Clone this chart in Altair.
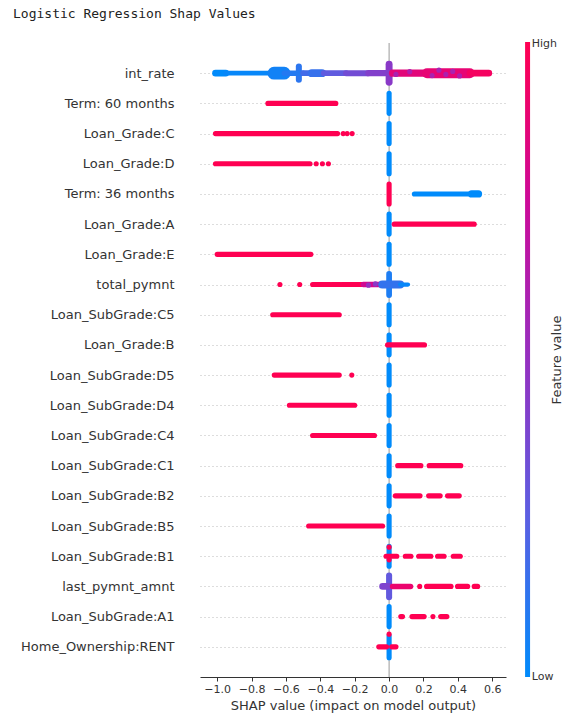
import altair as alt
import pandas as pd

features = ["int_rate", "Term: 60 months", "Loan_Grade:C", "Loan_Grade:D",
            "Term: 36 months", "Loan_Grade:A", "Loan_Grade:E", "total_pymnt",
            "Loan_SubGrade:C5", "Loan_Grade:B", "Loan_SubGrade:D5", "Loan_SubGrade:D4",
            "Loan_SubGrade:C4", "Loan_SubGrade:C1", "Loan_SubGrade:B2", "Loan_SubGrade:B5",
            "Loan_SubGrade:B1", "last_pymnt_amnt", "Loan_SubGrade:A1", "Home_Ownership:RENT"]

# vertical piles of points at one SHAP value: (row, shap, half_spread_rows, width_rows, feature_value)
piles = [
    (0, -0.525, 0.22, 0.20, 0.12), (0, 0.0, 0.30, 0.23, 0.45),
    (1, 0.0, 0.33, 0.17, 0.0), (2, 0.0, 0.33, 0.17, 0.0), (3, 0.0, 0.33, 0.17, 0.0),
    (4, 0.0, 0.33, 0.17, 1.0), (5, 0.0, 0.33, 0.17, 0.0), (6, 0.0, 0.33, 0.17, 0.0),
    (7, 0.0, 0.35, 0.19, 0.08), (8, 0.0, 0.33, 0.17, 0.0), (9, 0.0, 0.33, 0.17, 0.0),
    (10, 0.0, 0.33, 0.17, 0.0), (11, 0.0, 0.33, 0.17, 0.0), (12, 0.0, 0.33, 0.17, 0.0),
    (13, 0.0, 0.33, 0.17, 0.0), (14, 0.0, 0.33, 0.17, 0.0), (15, 0.0, 0.33, 0.17, 0.0),
    (16, 0.0, 0.33, 0.17, 0.0), (17, 0.0, 0.36, 0.20, 0.28), (18, 0.0, 0.33, 0.17, 0.0),
    (19, 0.0, 0.36, 0.17, 0.0),
]

# horizontal runs of overlapping points: (row, shap_from, shap_to, spread_rows, feature_value)
bands = [
    (0, -1.01, -0.95, 0.22, 0.0), (0, -0.95, -0.66, 0.16, 0.02),
    (0, -0.67, -0.61, 0.42, 0.05), (0, -0.61, -0.50, 0.18, 0.10),
    (0, -0.50, -0.38, 0.19, 0.18), (0, -0.45, -0.39, 0.26, 0.15),
    (0, -0.38, -0.25, 0.19, 0.27), (0, -0.25, -0.12, 0.20, 0.35),
    (0, -0.12, -0.01, 0.21, 0.42), (0, 0.02, 0.22, 0.24, 0.86),
    (0, 0.22, 0.47, 0.33, 0.88), (0, 0.47, 0.58, 0.22, 0.95),
    (1, -0.705, -0.31, 0.17, 1.0),
    (2, -1.01, -0.30, 0.17, 1.0),
    (3, -1.01, -0.46, 0.17, 1.0),
    (4, 0.147, 0.48, 0.17, 0.0), (4, 0.48, 0.52, 0.24, 0.0),
    (5, 0.03, 0.495, 0.17, 1.0),
    (6, -1.00, -0.455, 0.17, 1.0),
    (7, -0.445, -0.343, 0.17, 1.0), (7, -0.333, -0.285, 0.17, 1.0),
    (7, -0.275, -0.15, 0.17, 1.0), (7, -0.15, -0.045, 0.18, 0.78),
    (7, -0.04, 0.064, 0.27, 0.14), (7, 0.064, 0.11, 0.14, 0.02),
    (8, -0.677, -0.29, 0.17, 1.0),
    (9, -0.008, 0.205, 0.18, 1.0),
    (10, -0.668, -0.29, 0.17, 1.0),
    (11, -0.58, -0.20, 0.17, 1.0),
    (12, -0.445, -0.085, 0.17, 1.0),
    (13, 0.05, 0.185, 0.17, 1.0), (13, 0.233, 0.417, 0.17, 1.0),
    (14, 0.036, 0.18, 0.17, 1.0), (14, 0.23, 0.297, 0.17, 1.0), (14, 0.34, 0.408, 0.17, 1.0),
    (15, -0.468, -0.038, 0.17, 1.0),
    (16, -0.018, 0.045, 0.17, 1.0), (16, 0.094, 0.127, 0.17, 1.0),
    (16, 0.172, 0.243, 0.17, 1.0), (16, 0.282, 0.32, 0.17, 1.0), (16, 0.373, 0.414, 0.17, 1.0),
    (17, -0.038, 0.0, 0.22, 0.4), (17, 0.02, 0.125, 0.18, 0.9),
    (17, 0.218, 0.36, 0.17, 1.0), (17, 0.398, 0.457, 0.17, 1.0), (17, 0.495, 0.515, 0.17, 1.0),
    (18, 0.068, 0.078, 0.17, 1.0), (18, 0.133, 0.204, 0.17, 1.0), (18, 0.30, 0.336, 0.17, 1.0),
    (19, -0.06, -0.015, 0.17, 1.0), (19, 0.015, 0.04, 0.17, 1.0),
]

# isolated points: (row, shap, row_offset, feature_value)
dots = [
    (0, 0.04, 0.04, 0.6), (0, 0.12, -0.05, 0.62), (0, 0.25, 0.08, 0.6),
    (0, 0.29, -0.10, 0.58), (0, 0.33, 0.04, 0.62), (0, 0.37, -0.06, 0.6),
    (0, 0.41, 0.09, 0.62),
    (2, -0.267, 0.0, 1.0), (2, -0.244, 0.0, 1.0), (2, -0.215, 0.0, 1.0),
    (3, -0.424, 0.0, 1.0), (3, -0.388, 0.0, 1.0), (3, -0.353, 0.0, 1.0),
    (7, -0.635, 0.0, 1.0), (7, -0.52, 0.0, 1.0),
    (7, -0.12, 0.02, 0.5), (7, -0.08, -0.02, 0.45),
    (10, -0.217, 0.0, 1.0),
    (16, 0.0, -0.30, 1.0), (16, 0.0, 0.12, 1.0),
    (17, 0.178, 0.0, 1.0),
    (18, 0.255, 0.0, 1.0),
    (19, 0.0, -0.42, 1.0),
]

dot_width = 0.17  # one point's diameter, in rows

palette = ["#008bfb", "#5b5fe2", "#9530c0", "#cc0a98", "#ff0052"]
cbar_labels = ["High", "Low"]
cbar_label_rows = [-0.97, 20.0]

seg_rows = []
for r, x, h, w, v in piles:
    seg_rows.append({"x": x, "x2": x, "y": r - h, "y2": r + h, "w": w, "v": v})
for r, a, b, w, v in bands:
    seg_rows.append({"x": a, "x2": b, "y": r, "y2": r, "w": w, "v": v})
for r, x, dy, v in dots:
    seg_rows.append({"x": x, "x2": x, "y": r + dy, "y2": r + dy, "w": dot_width, "v": v})
seg_df = pd.DataFrame(seg_rows)

label_expr = "[" + ",".join("'" + f + "'" for f in features) + "][datum.value]"

x_scale = alt.Scale(domain=[-1.1, 0.68], nice=False, zero=False)
y_scale = alt.Scale(domain=[-1, 20], reverse=True, nice=False, zero=False)
color_scale = alt.Scale(domain=[0, 1], range=palette, interpolate="rgb")

x_axis = alt.Axis(values=[-1.0, -0.8, -0.6, -0.4, -0.2, 0.0, 0.2, 0.4, 0.6], format=".1f",
                  title="SHAP value (impact on model output)", grid=False, labelOverlap=False,
                  domainColor="#333", tickColor="#333", tickSize=4, labelPadding=2,
                  labelFontSize=11, labelColor="#333", labelFont="DejaVu Sans",
                  titleFontSize=13, titleFontWeight="normal", titleColor="#333",
                  titleFont="DejaVu Sans", titlePadding=5)
y_axis = alt.Axis(values=list(range(20)), labelExpr=label_expr, title=None, labelOverlap=False,
                  domain=False, ticks=False, grid=True, gridDash=[1, 3], gridColor="#bbb",
                  labelFontSize=13, labelColor="#333", labelFont="DejaVu Sans", labelPadding=26)

zero_line = alt.Chart(pd.DataFrame({"x": [0.0]})).mark_rule(color="#999", strokeWidth=1).encode(
    x=alt.X("x:Q", scale=x_scale, axis=x_axis)
)

segments = alt.Chart(seg_df).mark_rule(strokeCap="round").encode(
    x=alt.X("x:Q", scale=x_scale, axis=x_axis),
    x2="x2:Q",
    y=alt.Y("y:Q", scale=y_scale, axis=y_axis),
    y2="y2:Q",
    size=alt.Size("w:Q", scale=alt.Scale(domain=[0, 1], range=[0, 30.19], zero=True), legend=None),
    color=alt.Color("v:Q", scale=color_scale, legend=None),
)

# colour bar (drawn beside the plot, in the same coordinate system)
gradient = alt.LinearGradient(
    gradient="linear", x1=0, x2=0, y1=1, y2=0,
    stops=[alt.GradientStop(color=c, offset=i / (len(palette) - 1)) for i, c in enumerate(palette)],
)
cbar = alt.Chart(pd.DataFrame({"a": [0]})).mark_rect(color=gradient).encode(
    x=alt.datum(0.791, scale=x_scale, axis=x_axis), x2=alt.datum(0.82),
    y=alt.datum(-1.03, scale=y_scale, axis=y_axis), y2=alt.datum(20.0),
)
cbar_text = alt.Chart(pd.DataFrame({"t": cbar_labels, "y": cbar_label_rows})).mark_text(
    align="left", baseline="middle", fontSize=11, color="#333", font="DejaVu Sans"
).encode(
    x=alt.datum(0.83, scale=x_scale, axis=x_axis),
    y=alt.Y("y:Q", scale=y_scale, axis=y_axis),
    text="t:N",
)
cbar_title = alt.Chart(pd.DataFrame({"t": ["Feature value"]})).mark_text(
    angle=270, align="center", baseline="middle", fontSize=13, color="#333", font="DejaVu Sans"
).encode(
    x=alt.datum(0.975, scale=x_scale, axis=x_axis),
    y=alt.datum(9.5, scale=y_scale, axis=y_axis),
    text="t:N",
)

chart = alt.layer(zero_line, segments, cbar, cbar_text, cbar_title).properties(
    width=306, height=634,
    autosize=alt.AutoSizeParams(type="none"),
    padding={"left": 192, "top": 35, "right": 59, "bottom": 37},
    title=alt.TitleParams("Logistic Regression Shap Values", anchor="start", frame="group",
                          dx=-187, offset=17, font="DejaVu Sans Mono", fontSize=13,
                          fontWeight="normal", color="#222"),
).configure_view(stroke=None)

chart.save("out.html", embed_options={"renderer": "svg", "actions": False})
